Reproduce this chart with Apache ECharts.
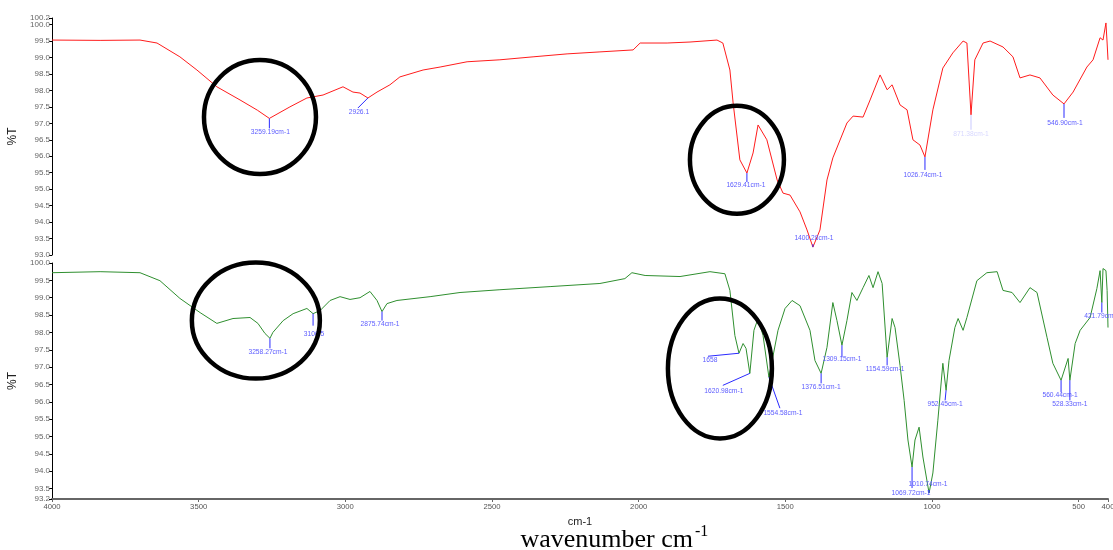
<!DOCTYPE html>
<html><head><meta charset="utf-8">
<script src="https://cdn.jsdelivr.net/npm/echarts@6/dist/echarts.min.js"></script>
<style>html,body{margin:0;padding:0;background:#fff}#c{width:1113px;height:550px}</style>
</head><body><div id="c"></div>
<script>
// ---------- data ----------
const redWavenumber = [4000,3836,3700,3642,3564,3506,3438,3359,3300,3259,3189,3131,3076,3008,2974,2950,2923,2892,2848,2814,2735,2677,2585,2473,2360,2244,2132,2019,1995,1903,1825,1733,1713,1689,1678,1655,1631,1610,1593,1563,1528,1508,1484,1450,1426,1406,1382,1358,1338,1290,1269,1235,1211,1177,1153,1136,1109,1085,1065,1041,1024,997,963,929,894,881,867,854,826,802,758,724,700,666,632,588,550,519,472,451,427,417,407,403,400];
const redTransmittance = [99.53,99.52,99.53,99.44,99.02,98.62,98.11,97.71,97.40,97.15,97.50,97.77,97.86,98.11,97.95,97.92,97.77,97.95,98.17,98.41,98.62,98.71,98.87,98.93,99.02,99.11,99.17,99.23,99.44,99.44,99.47,99.53,99.44,98.62,97.62,95.89,95.49,96.10,96.95,96.50,95.28,94.88,94.82,94.31,93.76,93.24,93.76,95.28,95.95,97.01,97.22,97.19,97.71,98.47,98.02,98.17,97.56,97.41,96.50,96.34,95.98,97.41,98.68,99.14,99.50,99.44,97.26,98.93,99.44,99.50,99.32,99.02,98.38,98.47,98.38,97.86,97.59,97.95,98.71,98.93,99.60,99.53,100.05,99.44,98.93];

const greenWavenumber = [4000,3836,3700,3632,3564,3495,3438,3383,3325,3298,3274,3257,3247,3212,3178,3131,3110,3086,3052,3018,2984,2950,2916,2892,2875,2858,2824,2711,2609,2473,2302,2132,2047,2023,1978,1859,1757,1706,1689,1672,1658,1644,1634,1621,1607,1593,1576,1556,1525,1501,1477,1450,1416,1399,1378,1358,1338,1324,1307,1290,1273,1256,1235,1215,1201,1184,1170,1153,1136,1126,1109,1095,1082,1068,1058,1044,1031,1010,997,980,963,952,942,922,911,894,881,847,813,778,758,727,700,666,642,608,588,560,536,530,512,495,461,438,427,421,417,407,403,400];
const greenTransmittance = [99.72,99.75,99.72,99.49,98.98,98.57,98.26,98.40,98.43,98.26,97.97,97.83,98.00,98.34,98.54,98.69,98.54,98.63,98.92,99.03,98.95,99.00,99.18,98.92,98.60,98.83,98.92,99.03,99.15,99.23,99.32,99.41,99.55,99.72,99.64,99.61,99.75,99.69,99.21,97.91,97.40,97.68,97.54,96.82,98.06,98.40,97.91,96.71,98.06,98.69,98.92,98.77,98.06,97.19,96.82,97.57,98.86,98.34,97.63,98.34,99.15,98.92,99.29,99.64,99.29,99.75,99.41,97.28,98.40,98.14,97.05,96.04,94.90,94.12,94.90,95.27,94.41,93.37,93.95,95.47,97.11,96.33,97.19,98.14,98.40,98.06,98.43,99.49,99.72,99.75,99.21,99.15,98.86,99.29,99.15,97.86,97.11,96.62,97.25,96.62,97.68,98.06,98.43,99.26,99.78,98.86,99.84,99.78,99.21,98.14];

// peak annotations
const redPeakText = ['3259.19cm-1','2926.1','1629.41cm-1','1400.28cm-1','1026.74cm-1','871.38cm-1','546.90cm-1'];
const redPeakWn   = [3259,2923,1631,1406,1024,867,550];
const redPeakT    = [97.15,97.77,95.49,93.24,95.98,97.26,97.59];

const greenPeakText = ['3258.27cm-1','3106.5','2875.74cm-1','1658','1620.98cm-1','1554.58cm-1','1376.51cm-1','1309.15cm-1','1154.59cm-1','952.45cm-1','1069.72cm-1','1010.74cm-1','560.44cm-1','528.33cm-1','421.79cm-1'];
const greenPeakWn   = [3257,3110,2875,1658,1621,1556,1378,1307,1153,952,1068,1010,560,530,421];
const greenPeakT    = [97.83,98.54,98.60,97.40,96.82,96.71,96.82,97.63,97.28,96.33,94.12,93.37,96.62,96.62,98.86];

// tick labels
const topYTicks = [93.0,93.5,94.0,94.5,95.0,95.5,96.0,96.5,97.0,97.5,98.0,98.5,99.0,99.5,100.2];
const topYExtraTicks = [100.0];
const bottomYTicks = [93.2,93.5,94.0,94.5,95.0,95.5,96.0,96.5,97.0,97.5,98.0,98.5,99.0,99.5,100.0];
const xTicks = [4000,3500,3000,2500,2000,1500,1000,500,400];

// ---------- layout (pixel offsets of leader end / label centre, opacity) ----------
const redLabelLayout = [
  [0,10,1,14,1],[-10,10,-9,14,1],[0,9,-1,12,1],[0,-3,1,-9,1],[0,13,-2,18,1],[0,15,0,19,0.25],[0,14,1,19,1]
];
const greenLabelLayout = [
  [0,10,-2,14,1],[0,12,1,20,1],[0,9,-2,13,1],[-31,3,-29,7,1],[-27,12,-26,18,1],[11,31,14,36,1],
  [0,10,0,14,1],[0,12,0,14,1],[0,8,-2,12,1],[-1,10,-1,14,1],[0,21,-1,26,1],[0,-3,-1,-9,1],
  [0,12,-1,15,1],[0,20,0,24,1],[0,10,0,14,1]
];
// annotation circles: [wavenumber, %T, grid, rx, ry]
const circles = [[3291,97.19,0,56,57],[1665,95.89,0,47,54],[3305,98.34,1,64,58],[1723,96.96,1,52,70]];

const zip = (a,b)=>a.map((v,i)=>[v,b[i]]);
const fmtY = v => Number(v).toFixed(1);

function labelRender(texts, layout){
  return function(params, api){
    const i = params.dataIndex;
    const p = api.coord([api.value(0), api.value(1)]);
    const L = layout[i];
    return {type:'group', children:[
      {type:'line', shape:{x1:p[0], y1:p[1], x2:p[0]+L[0], y2:p[1]+L[1]},
        style:{stroke:'#2a2aff', lineWidth:1, opacity:L[4]}},
      {type:'text', x:p[0]+L[2], y:p[1]+L[3],
        style:{text:texts[i], fill:'#5c5cff', fontSize:6.7, fontFamily:'Liberation Sans',
          align:'center', verticalAlign:'middle', opacity:L[4]}}
    ]};
  };
}

function yAxisDef(gridIndex, min, max, ticks, extra){
  return {
    type:'value', gridIndex, min, max, position:'left', offset:0, splitLine:{show:false},
    axisLine:{show:!extra, onZero:false, lineStyle:{color:'#000', width:1}},
    axisTick:{show:true, length:3, lineStyle:{color:'#000'}, customValues:ticks},
    axisLabel:{color:'#666', fontSize:8, fontFamily:'Liberation Sans', margin:2, formatter:fmtY,
      customValues:ticks, showMinLabel:true, showMaxLabel:true, hideOverlap:false},
    name: extra ? '' : '%T', nameLocation:'middle', nameRotate:90, nameGap:21,
    nameTextStyle:{color:'#222', fontSize:12, fontFamily:'Liberation Sans'}
  };
}

const chart = echarts.init(document.getElementById('c'), null, {renderer:'canvas'});
chart.setOption({
  animation:false,
  backgroundColor:'#fff',
  grid:[
    {left:52, top:18, width:1056, height:237, outerBoundsMode:'none'},
    {left:52, top:263, width:1056, height:236, outerBoundsMode:'none'}
  ],
  xAxis:[
    {gridIndex:0, type:'value', min:400, max:4000, inverse:true, show:false},
    {gridIndex:1, type:'value', min:400, max:4000, inverse:true, splitLine:{show:false},
      axisLine:{lineStyle:{color:'#666', width:2}},
      axisTick:{length:3, lineStyle:{color:'#666'}, customValues:xTicks},
      axisLabel:{color:'#555', fontSize:7.7, fontFamily:'Liberation Sans', margin:4, customValues:xTicks,
        showMinLabel:true, showMaxLabel:true, formatter: v => String(v)}}
  ],
  yAxis:[
    yAxisDef(0, 93.0, 100.2, topYTicks, false),
    yAxisDef(1, 93.2, 100.0, bottomYTicks, false),
    yAxisDef(0, 93.0, 100.2, topYExtraTicks, true)
  ],
  series:[
    {type:'line', xAxisIndex:0, yAxisIndex:0, data:zip(redWavenumber, redTransmittance),
      symbol:'none', lineStyle:{color:'#ff1c1c', width:1}, z:3},
    {type:'line', xAxisIndex:1, yAxisIndex:1, data:zip(greenWavenumber, greenTransmittance),
      symbol:'none', lineStyle:{color:'#2f8f2f', width:1}, z:3},
    {type:'custom', xAxisIndex:0, yAxisIndex:0, data:zip(redPeakWn, redPeakT),
      renderItem:labelRender(redPeakText, redLabelLayout), z:4, silent:true},
    {type:'custom', xAxisIndex:1, yAxisIndex:1, data:zip(greenPeakWn, greenPeakT),
      renderItem:labelRender(greenPeakText, greenLabelLayout), z:4, silent:true}
  ]
});

const g = circles.map(c => {
  const p = chart.convertToPixel({gridIndex:c[2]}, [c[0], c[1]]);
  return {type:'ellipse', shape:{cx:p[0], cy:p[1], rx:c[3], ry:c[4]},
    style:{fill:null, stroke:'#000', lineWidth:4.5}, z:10};
});
g.push({type:'text', x:580, y:522, style:{text:'cm-1', fill:'#222', fontSize:11, fontFamily:'Liberation Sans', align:'center', verticalAlign:'middle'}, z:10});
g.push({type:'text', x:693, y:540, style:{text:'wavenumber cm', fill:'#000', fontSize:26, fontFamily:'Liberation Serif', align:'right', verticalAlign:'middle'}, z:10});
g.push({type:'text', x:695, y:532, style:{text:'-1', fill:'#000', fontSize:16, fontFamily:'Liberation Serif', align:'left', verticalAlign:'middle'}, z:10});
chart.setOption({graphic:g});
</script>
</body></html>
